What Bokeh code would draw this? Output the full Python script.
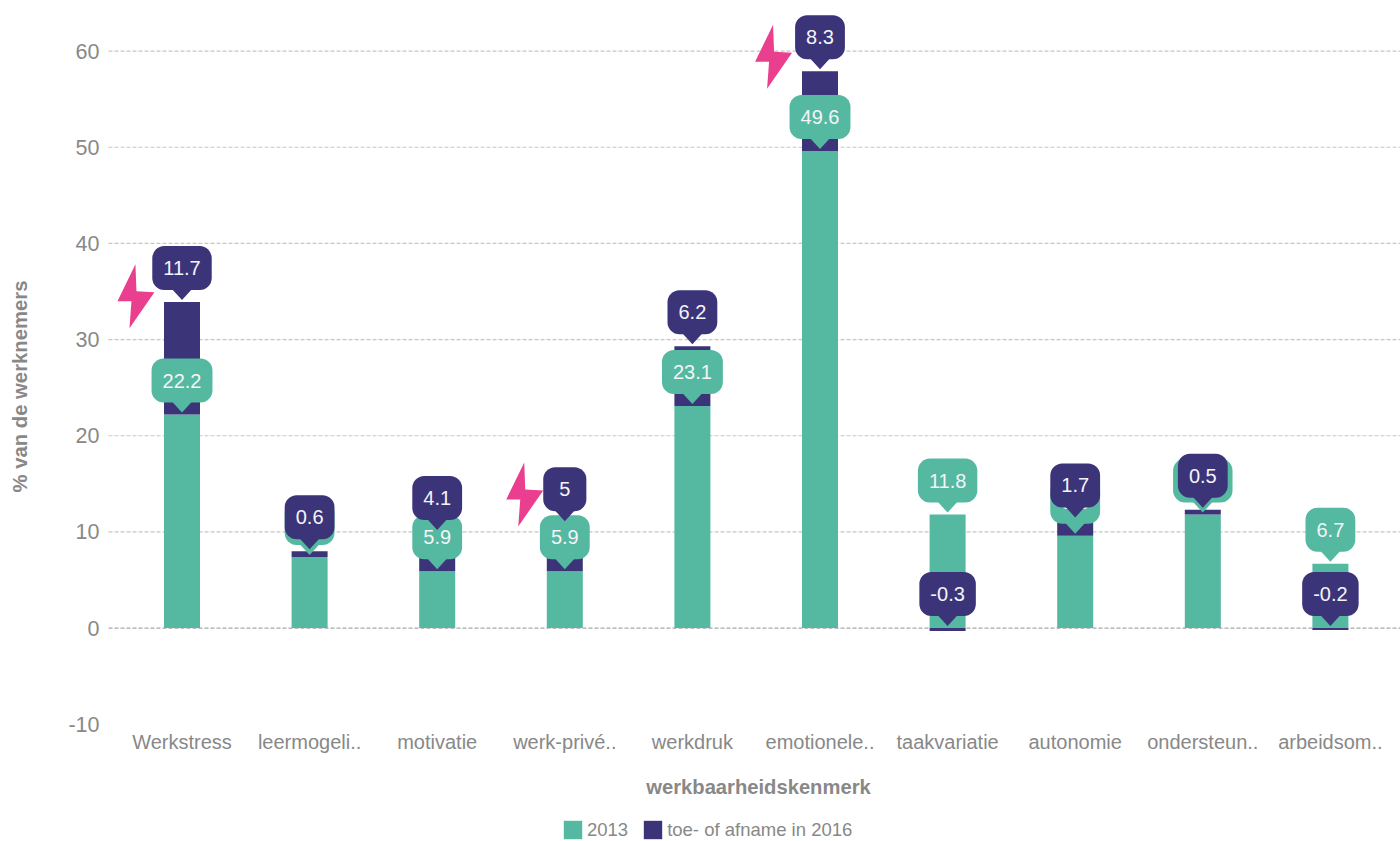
import math
from bokeh.plotting import figure
from bokeh.embed import file_html
from bokeh.resources import INLINE
from bokeh.models import Range1d, FixedTicker, Legend, LegendItem, ColumnDataSource, Label
from bokeh.core.properties import value

categories = ["Werkstress", "leermogeli..", "motivatie", "werk-privé..", "werkdruk",
              "emotionele..", "taakvariatie", "autonomie", "ondersteun..", "arbeidsom.."]
base_2013 = [22.2, 7.4, 5.9, 5.9, 23.1, 49.6, 11.8, 9.6, 11.8, 6.7]
change_2016 = [11.7, 0.6, 4.1, 5, 6.2, 8.3, -0.3, 1.7, 0.5, -0.2]
y_ticks = [-10, 0, 10, 20, 30, 40, 50, 60]
bolt_x = [-0.357, 2.69, 4.64]
bolt_y = [34.5, 13.9, 59.4]

TEAL = "#55b8a0"
NAVY = "#3b3479"
PINK = "#ea3f8e"
GREY = "#888888"
FONT = "Liberation Sans"

W, H = 1400, 841
ux, uy = 127.6, 9.617
x0, x1 = -181.5 / ux, (W - 181.5) / ux
y1, y0 = 627.6 / uy, (627.6 - H) / uy


def data_x(px):
    return x0 + px / ux


def data_y(py):
    return y1 - py / uy


p = figure(width=W, height=H, output_backend="svg", toolbar_location=None,
           x_range=Range1d(x0, x1), y_range=Range1d(y0, y1),
           min_border_left=0, min_border_right=0, min_border_top=0, min_border_bottom=0,
           outline_line_color=None, background_fill_color="white")
xs = list(range(len(categories)))

p.grid.visible = False
grid_y = [t for t in y_ticks if t >= 0]
p.segment(x0=[data_x(108)] * len(grid_y), x1=[x1] * len(grid_y), y0=grid_y, y1=grid_y,
          line_color=["#a8a8a8" if t == 0 else "#c6c6c6" for t in grid_y],
          line_dash="4 2", line_width=1.2)

p.yaxis.fixed_location = data_x(106)
p.xaxis.fixed_location = -10
p.yaxis.ticker = FixedTicker(ticks=y_ticks)
p.yaxis.major_label_overrides = {t: str(t) for t in y_ticks}
p.xaxis.ticker = FixedTicker(ticks=xs)
p.xaxis.major_label_overrides = {i: c for i, c in enumerate(categories)}
for ax in (p.xaxis[0], p.yaxis[0]):
    ax.axis_line_color = None
    ax.major_tick_line_color = None
    ax.minor_tick_line_color = None
    ax.major_label_text_color = GREY
    ax.major_label_text_font = FONT
    ax.major_label_text_font_size = "20px"
p.yaxis.major_label_text_font_size = "21.5px"
p.xaxis.major_label_standoff = 1
p.yaxis.major_label_standoff = 1

BAR = 36 / ux
r1 = p.vbar(x=xs, bottom=0, top=base_2013, width=BAR, color=TEAL, line_color=None)
tops2 = [b + c if c > 0 else 0 for b, c in zip(base_2013, change_2016)]
bot2 = [b if c > 0 else 0 for b, c in zip(base_2013, change_2016)]
end2 = [b + c if c > 0 else c for b, c in zip(base_2013, change_2016)]
r2 = p.vbar(x=xs, bottom=bot2, top=end2, width=BAR, color=NAVY, line_color=None)


def callouts(anchor, labels, color):
    # pointer under the pill, tip just above the anchor value
    tx, ty = [], []
    for i, a in zip(xs, anchor):
        tx.append([i - 11 / ux, i + 11 / ux, i])
        ty.append([a + 14 / uy, a + 14 / uy, a + 2 / uy])
    p.patches(tx, ty, fill_color=color, line_color=None)
    for i, a, t in zip(xs, anchor, labels):
        src = ColumnDataSource(dict(x=[i], y=[a + 34 / uy], t=[t]))
        p.text(x="x", y="y", text="t", source=src, text_color="#f4f4f8",
               text_font=value(FONT), text_font_size="20px",
               text_align="center", text_baseline="middle",
               background_fill_color=color, border_radius=12,
               padding=(16 if len(t) == 1 else 11, 15))


callouts(base_2013, [str(v) for v in base_2013], TEAL)
callouts(tops2, [str(v) for v in change_2016], NAVY)

# lightning bolts
BOLT_DX = [-1, -19, -5, -7, 18, 0]
BOLT_DY = [32, -5, -5, -32, 4, 5]
p.patches([[bx + d / ux for d in BOLT_DX] for bx in bolt_x],
          [[by + d / uy for d in BOLT_DY] for by in bolt_y],
          fill_color=PINK, line_color=None)

p.add_layout(Label(x=data_x(758), y=data_y(786), text="werkbaarheidskenmerk",
                   text_font=FONT, text_font_size="20.2px", text_font_style="bold",
                   text_color=GREY, text_align="center", text_baseline="middle"))
p.add_layout(Label(x=data_x(19), y=data_y(386), text="% van de werknemers", angle=math.pi / 2,
                   text_font=FONT, text_font_size="20.3px", text_font_style="bold",
                   text_color=GREY, text_align="center", text_baseline="middle"))

legend = Legend(items=[LegendItem(label="2013", renderers=[r1]),
                       LegendItem(label="toe- of afname in 2016", renderers=[r2])],
                orientation="horizontal", location=(561, 0),
                border_line_color=None, background_fill_alpha=0,
                label_text_color=GREY, label_text_font=FONT, label_text_font_size="18.5px",
                glyph_width=23, glyph_height=23, spacing=13, margin=0, padding=0,
                label_standoff=3)
p.add_layout(legend, "center")

open("out.html", "w").write(file_html(p, INLINE))
